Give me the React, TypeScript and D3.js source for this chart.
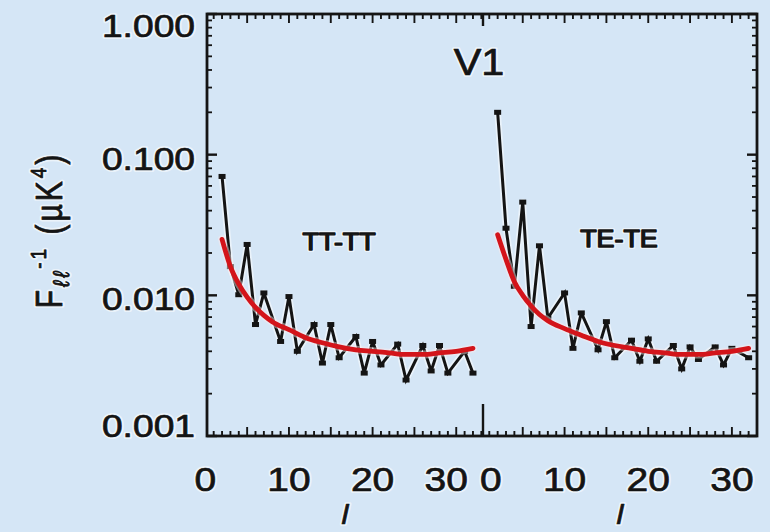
import React from "react";
import * as d3 from "d3";

// ---------- data ----------
const yTickValues = [1, 0.1, 0.01, 0.001];
const yTickLabels = ["1.000", "0.100", "0.010", "0.001"];
const xTickValues = [0, 10, 20, 30];
const xTickLabels = ["0", "10", "20", "30"];
const panelNames = ["TT-TT", "TE-TE"];
const chartTitle = "V1";

// TT-TT measured F^-1 (black zig-zag)
const ttL = [2, 3, 4, 5, 6, 7, 9, 10, 11, 13, 14, 15, 16, 18, 19, 20, 21, 23, 24, 26, 27, 28, 29, 31, 32];
const ttV = [0.07, 0.016, 0.0101, 0.023, 0.0062, 0.0104, 0.0047, 0.0098, 0.004, 0.0062, 0.0033, 0.0062, 0.0036,
  0.0051, 0.0028, 0.0047, 0.0032, 0.0045, 0.0025, 0.0044, 0.0029, 0.0044, 0.0028, 0.004, 0.0028];
// TT-TT smooth fit (red)
const ttFitL = [2, 3, 4, 5, 6, 7, 8, 10, 12, 14, 16, 18, 20, 22, 24, 26, 28, 30, 32];
const ttFitV = [0.025, 0.016, 0.012, 0.0097, 0.0082, 0.0072, 0.0065, 0.0057, 0.005, 0.0046, 0.0043, 0.0041,
  0.004, 0.0039, 0.0038, 0.0038, 0.0039, 0.004, 0.0042];

// TE-TE measured F^-1 (black zig-zag)
const teL = [2, 3, 4, 5, 6, 7, 8, 10, 11, 12, 14, 15, 16, 18, 19, 20, 21, 23, 24, 25, 26, 28, 29, 30, 32];
const teV = [0.2, 0.03, 0.0116, 0.046, 0.006, 0.0225, 0.0069, 0.0104, 0.0042, 0.0075, 0.0041, 0.0065, 0.0036,
  0.0048, 0.0034, 0.0049, 0.0034, 0.0044, 0.003, 0.0043, 0.0035, 0.0043, 0.0032, 0.0042, 0.0036];
// TE-TE smooth fit (red)
const teFitL = [2, 3, 4, 5, 6, 7, 8, 10, 12, 14, 16, 18, 20, 22, 24, 26, 28, 30, 32];
const teFitV = [0.027, 0.018, 0.0125, 0.01, 0.0084, 0.0073, 0.0066, 0.0058, 0.0052, 0.0047, 0.0044, 0.0042,
  0.004, 0.0039, 0.0038, 0.0038, 0.0039, 0.004, 0.0042];

// ---------- layout ----------
const W = 770;
const H = 532;
const X0 = 207;
const XD = 483;
const X1 = 757;
const Y0 = 14;
const Y1 = 436;
const BG = "#d5e6f6";
const INK = "#141414";
const FONT = "'Liberation Sans', Arial, Helvetica, sans-serif";

const y = d3.scaleLog().domain([0.001, 1]).range([Y1, Y0]);
const xL = d3.scaleLinear().domain([0.2, 33.2]).range([X0, XD]);
const xR = d3.scaleLinear().domain([0.25, 33.0]).range([XD, X1]);

const panels = [
  { x: xL, l: ttL, v: ttV, fl: ttFitL, fv: ttFitV, name: panelNames[0], nameL: 16, nameV: 0.021 },
  { x: xR, l: teL, v: teV, fl: teFitL, fv: teFitV, name: panelNames[1], nameL: 16.5, nameV: 0.022 },
];

type LabelProps = {
  transform: string;
  anchor?: "start" | "middle" | "end";
  size: number;
  italic?: boolean;
  weight?: number;
  spacing?: number;
  children: React.ReactNode;
};

function Label({ transform, anchor = "middle", size, italic, weight = 0.7, spacing, children }: LabelProps) {
  const common = {
    transform,
    textAnchor: anchor,
    fontFamily: FONT,
    fontSize: size,
    fontStyle: italic ? "italic" : "normal",
    letterSpacing: spacing,
  };
  return (
    <g>
      <text {...common} fill="none" stroke="rgba(255,255,255,0.55)" strokeWidth={4} strokeLinejoin="round" aria-hidden="true">
        {children}
      </text>
      <text {...common} fill={INK} stroke={INK} strokeWidth={weight} strokeLinejoin="round">
        {children}
      </text>
    </g>
  );
}

export default function App() {
  const minorY: number[] = [];
  [0.001, 0.01, 0.1].forEach((d) => {
    for (let k = 2; k <= 9; k++) minorY.push(d * k);
  });

  return (
    <svg
      width={W}
      height={H}
      viewBox={`0 0 ${W} ${H}`}
      style={{ position: "fixed", left: 0, top: 0, display: "block" }}
    >
      <rect x={0} y={0} width={W} height={H} fill={BG} />

      {/* y axis ticks (left & right) */}
      {yTickValues.map((v) => (
        <g key={"ymaj" + v}>
          <line x1={X0} x2={X0 + 10} y1={y(v)} y2={y(v)} stroke={INK} strokeWidth={2.4} />
          <line x1={X1} x2={X1 - 10} y1={y(v)} y2={y(v)} stroke={INK} strokeWidth={2.4} />
        </g>
      ))}
      {minorY.map((v) => (
        <g key={"ymin" + v}>
          <line x1={X0} x2={X0 + 5} y1={y(v)} y2={y(v)} stroke={INK} strokeWidth={1.8} />
          <line x1={X1} x2={X1 - 5} y1={y(v)} y2={y(v)} stroke={INK} strokeWidth={1.8} />
        </g>
      ))}

      {/* x ticks top & bottom for each panel */}
      {panels.map((p, pi) => {
        const [a, b] = p.x.domain();
        const ticks: number[] = [];
        for (let l = Math.ceil(a); l <= b; l++) ticks.push(l);
        return (
          <g key={"xt" + pi}>
            {ticks.map((l) => {
              const len = l % 5 === 0 ? 9 : 5;
              const xx = p.x(l);
              return (
                <g key={l}>
                  <line x1={xx} x2={xx} y1={Y0} y2={Y0 + len} stroke={INK} strokeWidth={1.9} />
                  <line x1={xx} x2={xx} y1={Y1} y2={Y1 - len} stroke={INK} strokeWidth={1.9} />
                </g>
              );
            })}
          </g>
        );
      })}
      {/* panel divider ticks */}
      <line x1={XD} x2={XD} y1={Y1} y2={Y1 - 32} stroke={INK} strokeWidth={2.4} />
      <line x1={XD} x2={XD} y1={Y0} y2={Y0 + 12} stroke={INK} strokeWidth={2.4} />

      {/* frame */}
      <rect x={X0} y={Y0} width={X1 - X0} height={Y1 - Y0} fill="none" stroke={INK} strokeWidth={2.8} />

      {/* data */}
      {panels.map((p, pi) => {
        const pts = p.l.map((l, i) => [p.x(l), y(p.v[i])] as [number, number]);
        const fit = p.fl.map((l, i) => [p.x(l), y(p.fv[i])] as [number, number]);
        const line = d3.line();
        const smooth = d3.line().curve(d3.curveMonotoneX);
        return (
          <g key={"d" + pi}>
            <path d={line(pts) || ""} fill="none" stroke="rgba(255,255,255,0.5)" strokeWidth={6.5} strokeLinejoin="round" />
            <path d={line(pts) || ""} fill="none" stroke={INK} strokeWidth={3} strokeLinejoin="miter" strokeMiterlimit={3} />
            {pts.map(([px, py], i) => (
              <rect key={i} x={px - 3.5} y={py - 2.5} width={7} height={5} fill={INK} />
            ))}
            <path d={smooth(fit) || ""} fill="none" stroke="rgba(255,235,235,0.45)" strokeWidth={8} strokeLinecap="round" />
            <path d={smooth(fit) || ""} fill="none" stroke="#d3141a" strokeWidth={4.8} strokeLinecap="round" />
            <Label
              transform={`translate(${p.x(p.nameL)},${y(p.nameV)}) scale(1.12,1)`}
              size={24}
              weight={1.4}
            >
              {p.name}
            </Label>
          </g>
        );
      })}

      {/* y tick labels */}
      {yTickValues.map((v, i) => {
        const by = Math.min(Math.max(y(v) + 15, 37), 437);
        return (
          <Label key={"yl" + v} transform={`translate(195,${by}) scale(1.2,1)`} anchor="end" size={31}>
            {yTickLabels[i]}
          </Label>
        );
      })}

      {/* x tick labels */}
      {panels.map((p, pi) =>
        xTickValues.map((v, i) => {
          let dx = 0;
          if (pi === 0 && v === 30) dx = -10;
          if (pi === 1 && v === 0) dx = 10;
          return (
            <Label key={"xl" + pi + v} transform={`translate(${p.x(v) + dx},491) scale(1.18,1)`} size={33}>
              {xTickLabels[i]}
            </Label>
          );
        })
      )}

      {/* x axis titles */}
      {panels.map((p, pi) => {
        const [a, b] = p.x.domain();
        return (
          <Label key={"xa" + pi} transform={`translate(${p.x((a + b) / 2)},524) scale(1.15,1)`} size={27} italic>
            l
          </Label>
        );
      })}

      {/* title */}
      <Label transform={`translate(${XD - 4},75) scale(1.12,1)`} size={37}>
        {chartTitle}
      </Label>

      {/* y axis title */}
      <Label transform="translate(62,230) rotate(-90) scale(1,1.2)" size={30} spacing={3}>
        F
        <tspan fontSize={19} dy={6} fontStyle="italic">ℓℓ</tspan>
        <tspan fontSize={19} dy={-19}>-1</tspan>
        <tspan fontSize={30} dy={13}> (µK</tspan>
        <tspan fontSize={19} dy={-13}>4</tspan>
        <tspan fontSize={30} dy={13}>)</tspan>
      </Label>
    </svg>
  );
}
